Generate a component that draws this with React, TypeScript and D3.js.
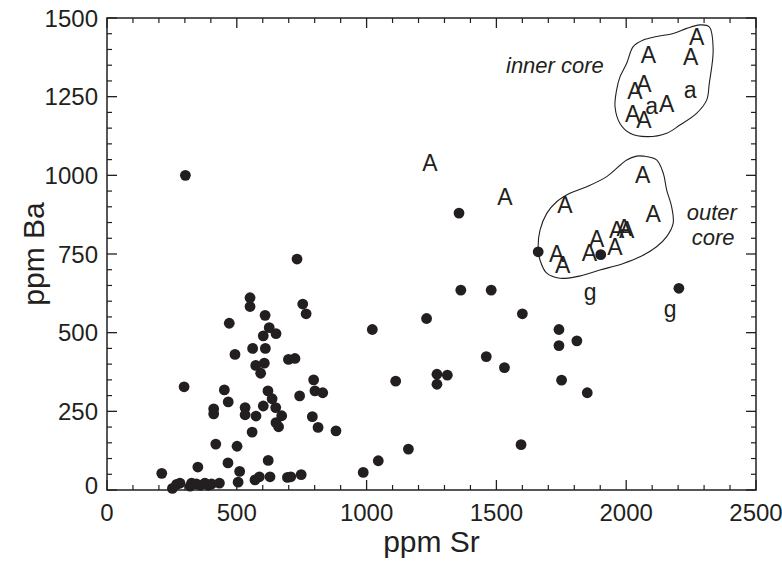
import React from "react";
import * as d3 from "d3";

// ---- data (ppm) ----
const dotSr = [302, 732, 551, 551, 609, 471, 754, 767, 625, 602, 651, 493, 561, 610, 573, 606, 592, 699, 724, 297, 452, 467, 411, 411, 532, 532, 574, 602, 620, 636, 650, 673, 651, 661, 559, 742, 796, 801, 831, 791, 813, 882, 419, 501, 466, 621, 350, 211, 511, 505, 252, 268, 281, 320, 326, 345, 360, 377, 390, 403, 433, 570, 587, 628, 695, 708, 748, 987, 1045, 1661, 1902, 1363, 1480, 1600, 1231, 1022, 1741, 1810, 1741, 1461, 1531, 1112, 1271, 1311, 1271, 1751, 1850, 1161, 1595, 2203, 1356];
const dotBa = [1000, 734, 611, 583, 555, 530, 591, 560, 516, 490, 497, 431, 450, 450, 396, 403, 371, 415, 418, 328, 318, 280, 258, 242, 262, 239, 235, 267, 315, 290, 262, 236, 214, 201, 184, 299, 350, 315, 309, 233, 199, 188, 146, 139, 86, 94, 73, 53, 59, 25, 5, 18, 22, 12, 22, 19, 15, 22, 15, 19, 22, 32, 42, 42, 40, 42, 49, 56, 93, 757, 748, 635, 635, 560, 545, 510, 510, 474, 459, 424, 389, 346, 368, 365, 336, 349, 309, 130, 144, 641, 880];

const letterChar = ["A", "A", "A", "A", "A", "A", "A", "A", "A", "A", "A", "A", "A", "g", "g", "A", "A", "A", "A", "A", "a", "A", "A", "A", "a"];
const letterSr = [1244, 1533, 1764, 2063, 2104, 1732, 1755, 1858, 1886, 1957, 1963, 1992, 2002, 1861, 2169, 2086, 2271, 2248, 2068, 2034, 2246, 2156, 2025, 2068, 2098];
const letterBa = [1039, 932, 906, 1001, 879, 752, 715, 754, 800, 773, 828, 835, 826, 614, 563, 1382, 1439, 1377, 1292, 1269, 1266, 1227, 1197, 1176, 1213];

const innerSr = [2320, 2335, 2320, 2310, 2271, 2207, 2156, 2079, 2015, 1976, 1957, 1963, 1976, 2002, 2027, 2066, 2117, 2181, 2233, 2284];
const innerBa = [1472, 1398, 1292, 1239, 1197, 1160, 1134, 1123, 1134, 1165, 1218, 1271, 1313, 1356, 1409, 1430, 1441, 1451, 1467, 1478];
const outerSr = [2066, 2117, 2143, 2156, 2175, 2181, 2156, 2117, 2053, 1989, 1899, 1809, 1745, 1694, 1668, 1661, 1668, 1694, 1732, 1783, 1848, 1925, 2002, 2040];
const outerBa = [1061, 1049, 1006, 953, 900, 848, 805, 773, 741, 720, 699, 678, 673, 689, 731, 773, 826, 879, 916, 943, 964, 996, 1049, 1061];

const xMajor = [0, 500, 1000, 1500, 2000, 2500];
const yMajor = [0, 250, 500, 750, 1000, 1250, 1500];

const W = 782, H = 561;
const L = 107, R = 756, T = 18, B = 490;
const INK = "#231f20";
const FONT = "'Liberation Sans', Arial, Helvetica, sans-serif";

export default function App() {
  const x = d3.scaleLinear().domain([0, 2500]).range([L, R]);
  const y = d3.scaleLinear().domain([0, 1500]).range([B, T]);
  const xMinor = d3.range(0, 2501, 100).filter((v) => v % 500 !== 0);
  const yMinor = d3.range(0, 1501, 50).filter((v) => v % 250 !== 0);

  const blob = d3
    .line<[number, number]>()
    .x((d) => x(d[0]))
    .y((d) => y(d[1]))
    .curve(d3.curveCatmullRomClosed.alpha(0.5));
  const inner = blob(innerSr.map((s, i) => [s, innerBa[i]] as [number, number]));
  const outer = blob(outerSr.map((s, i) => [s, outerBa[i]] as [number, number]));

  const MAJ = 10, MIN = 5;
  const letterDy: Record<string, string> = { A: "0.36em", a: "0.26em", g: "0.16em" };

  return (
    <div style={{ position: "absolute", left: 0, top: 0 }}>
      <svg width={W} height={H} style={{ display: "block", background: "#fff" }} fontFamily={FONT}>
        {/* outlines */}
        <path d={inner || ""} fill="none" stroke={INK} strokeWidth={1.1} />
        <path d={outer || ""} fill="none" stroke={INK} strokeWidth={1.1} />

        {/* dots */}
        {dotSr.map((s, i) => (
          <circle key={"d" + i} cx={x(s)} cy={y(dotBa[i])} r={5.4} fill={INK} />
        ))}

        {/* letters */}
        {letterChar.map((c, i) => (
          <text
            key={"l" + i}
            x={x(letterSr[i])}
            y={y(letterBa[i])}
            dy={letterDy[c]}
            textAnchor="middle"
            fontSize={23}
            fill={INK}
          >
            {c}
          </text>
        ))}

        {/* annotations */}
        <text x={x(1537)} y={y(1326)} fontSize={22} fontStyle="italic" fill={INK}>
          inner core
        </text>
        <text x={x(2330)} y={y(858)} fontSize={22} fontStyle="italic" fill={INK} textAnchor="middle">
          outer
        </text>
        <text x={x(2335)} y={y(779)} fontSize={22} fontStyle="italic" fill={INK} textAnchor="middle">
          core
        </text>

        {/* frame */}
        <rect x={L} y={T} width={R - L} height={B - T} fill="none" stroke={INK} strokeWidth={1.5} />

        {/* x ticks */}
        {xMajor.map((v) => (
          <g key={"xm" + v}>
            <line x1={x(v)} x2={x(v)} y1={B} y2={B - MAJ} stroke={INK} strokeWidth={1.3} />
            <line x1={x(v)} x2={x(v)} y1={T} y2={T + MAJ} stroke={INK} strokeWidth={1.3} />
            <text x={x(v)} y={B + 31} textAnchor="middle" fontSize={24} fill={INK}>
              {v}
            </text>
          </g>
        ))}
        {xMinor.map((v) => (
          <g key={"xn" + v}>
            <line x1={x(v)} x2={x(v)} y1={B} y2={B - MIN} stroke={INK} strokeWidth={1.2} />
            <line x1={x(v)} x2={x(v)} y1={T} y2={T + MIN} stroke={INK} strokeWidth={1.2} />
          </g>
        ))}

        {/* y ticks */}
        {yMajor.map((v) => (
          <g key={"ym" + v}>
            <line x1={L} x2={L + MAJ} y1={y(v)} y2={y(v)} stroke={INK} strokeWidth={1.3} />
            <line x1={R} x2={R - MAJ} y1={y(v)} y2={y(v)} stroke={INK} strokeWidth={1.3} />
            <text x={L - 9} y={v === 0 ? y(v) - 5 : y(v)} dy="0.36em" textAnchor="end" fontSize={24} fill={INK}>
              {v}
            </text>
          </g>
        ))}
        {yMinor.map((v) => (
          <g key={"yn" + v}>
            <line x1={L} x2={L + MIN} y1={y(v)} y2={y(v)} stroke={INK} strokeWidth={1.2} />
            <line x1={R} x2={R - MIN} y1={y(v)} y2={y(v)} stroke={INK} strokeWidth={1.2} />
          </g>
        ))}

        {/* axis titles */}
        <text x={(L + R) / 2} y={552} textAnchor="middle" fontSize={30} fill={INK}>
          ppm Sr
        </text>
        <text
          transform={`translate(44,${(T + B) / 2}) rotate(-90)`}
          textAnchor="middle"
          fontSize={30}
          fill={INK}
        >
          ppm Ba
        </text>
      </svg>
    </div>
  );
}
